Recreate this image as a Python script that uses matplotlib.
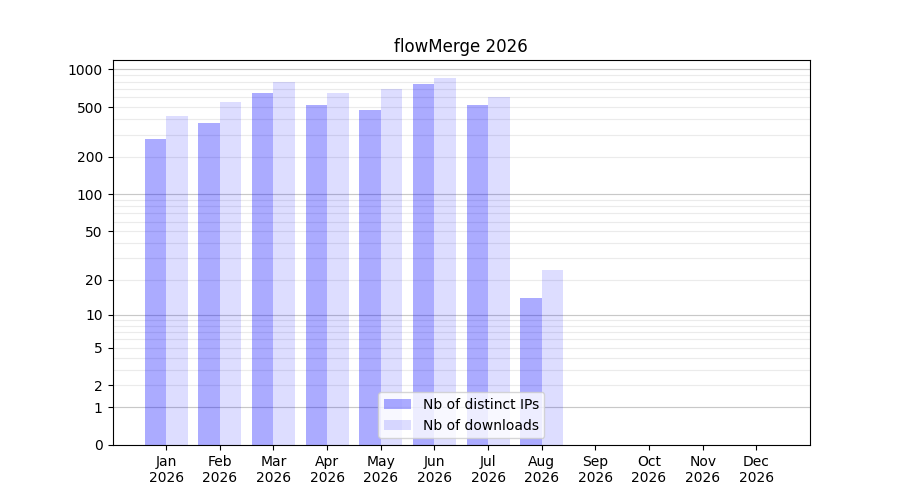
import numpy as np
import matplotlib
matplotlib.use("Agg")
import matplotlib.pyplot as plt

title = "flowMerge 2026"
months = ["Jan", "Feb", "Mar", "Apr", "May", "Jun", "Jul", "Aug", "Sep", "Oct", "Nov", "Dec"]
year = 2026
distinct_ips = [280, 376, 654, 524, 478, 758, 524, 14]
downloads = [428, 544, 787, 654, 704, 862, 607, 24]
ytick_values = [0, 1, 2, 5, 10, 20, 50, 100, 200, 500, 1000]
decade_lines = [1, 10, 100, 1000]
minor_lines = [3, 4, 6, 7, 8, 9, 30, 40, 60, 70, 80, 90, 300, 400, 600, 700, 800, 900]

def fwd(x):
    x = np.asarray(x, dtype=float)
    return np.sign(x) * np.log10(np.abs(x) + 1)

def inv(y):
    y = np.asarray(y, dtype=float)
    return np.sign(y) * (10 ** np.abs(y) - 1)

x = np.arange(len(months))
n = len(distinct_ips)
w = 0.4

fig, ax = plt.subplots(figsize=(9, 5), dpi=100)
ax.set_yscale('function', functions=(fwd, inv))

ax.bar(x[:n] - w / 2, distinct_ips, width=w, color='blue', alpha=0.33,
       label='Nb of distinct IPs', zorder=2)
ax.bar(x[:n] + w / 2, downloads, width=w, color='blue', alpha=0.133,
       label='Nb of downloads', zorder=2)

ax.set_yticks(ytick_values)
ax.set_yticklabels([str(v) for v in ytick_values])
ax.set_yticks(minor_lines, minor=True)
ax.tick_params(axis='y', which='minor', length=0)
ax.grid(axis='y', which='major', color='#ebebeb', linewidth=0.8, zorder=0)
ax.grid(axis='y', which='minor', color='#ebebeb', linewidth=0.8, zorder=0)
for v in decade_lines:
    ax.axhline(v, color='#c8c8c8', linewidth=0.8, zorder=1)
ax.set_axisbelow(True)

ax.set_xticks(x)
ax.set_xticklabels([f"{m}\n{year}" for m in months])
ax.set_xlim(-1, 12)
ax.set_ylim(0, 1190)

ax.set_title(title)
ax.legend(loc='lower center')

fig.savefig("out.png", dpi=100)
